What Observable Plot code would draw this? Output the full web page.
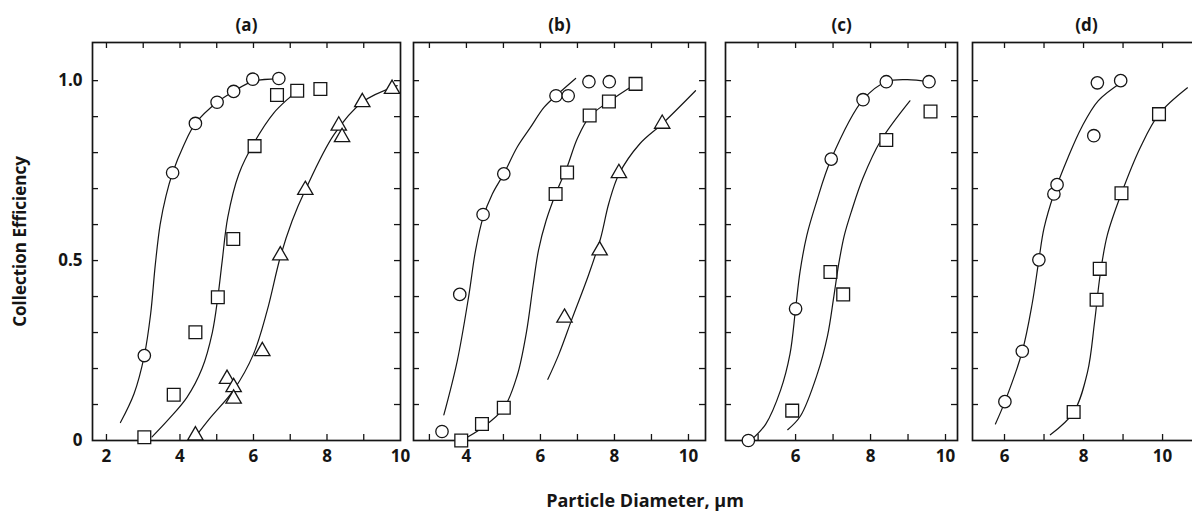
<!DOCTYPE html>
<html>
<head>
<meta charset="utf-8">
<script src="https://cdn.jsdelivr.net/npm/d3@7"></script>
<script src="https://cdn.jsdelivr.net/npm/@observablehq/plot@0.6"></script>
<style>
  body { margin: 0; background: #fff; }
  #wrap { position: relative; width: 1192px; height: 512px; overflow: hidden; background: #fff; font-family: "Open Sans", sans-serif; color: #111; }
  #wrap svg { position: absolute; top: 0; }
  #xlabel { position: absolute; left: 445px; width: 400px; top: 488px; text-align: center; font-size: 18px; font-weight: bold; line-height: 24px; color: #151515; }
</style>
</head>
<body>
<div id="wrap"><div id="xlabel">Particle Diameter, μm</div></div>
<script>
// ---------- data ----------
const yDomain = [0, 1.106];
const yMinorTicks = [0.1, 0.2, 0.3, 0.4, 0.5, 0.6, 0.7, 0.8, 0.9, 1.0];
const yTickLabels = [0, 0.5, 1.0];
const yTitle = "Collection Efficiency";
const panelTitles = ["(a)", "(b)", "(c)", "(d)"];

// panel (a)
const aXDomain = [1.62, 10.0];
const aXTicks = [2, 3, 4, 5, 6, 7, 8, 9];
const aXLabels = [2, 4, 6, 8, 10];
const aCircles = [[3.03,0.236],[3.80,0.744],[4.42,0.881],[5.01,0.940],[5.46,0.970],[5.98,1.004],[6.69,1.006]];
const aSquares = [[3.03,0.009],[3.83,0.127],[4.42,0.301],[5.03,0.398],[5.45,0.560],[6.03,0.818],[6.64,0.960],[7.19,0.972],[7.82,0.977]];
const aTriangles = [[4.42,0.014],[5.28,0.171],[5.46,0.148],[5.46,0.116],[6.24,0.248],[6.73,0.514],[7.41,0.696],[8.32,0.875],[8.41,0.843],[8.96,0.940],[9.77,0.977]];
const aCircleCurve = [[2.38,0.05],[2.75,0.13],[3.03,0.236],[3.2,0.35],[3.33,0.49],[3.46,0.60],[3.62,0.68],[3.80,0.744],[4.1,0.82],[4.42,0.881],[5.01,0.940],[5.46,0.970],[5.98,0.998],[6.69,1.005]];
const aSquareCurve = [[3.24,0.01],[3.7,0.06],[4.19,0.12],[4.6,0.2],[4.88,0.3],[5.03,0.398],[5.15,0.50],[5.3,0.62],[5.6,0.74],[6.03,0.83],[6.55,0.91],[7.0,0.955],[7.19,0.972]];
const aTriangleCurve = [[4.42,0.01],[4.8,0.06],[5.46,0.14],[6.0,0.24],[6.37,0.36],[6.73,0.51],[7.05,0.61],[7.41,0.696],[8.19,0.85],[8.96,0.940],[9.91,0.986]];

// panel (b)
const bXDomain = [2.57, 10.46];
const bXTicks = [3, 4, 5, 6, 7, 8, 9, 10];
const bXLabels = [4, 6, 8, 10];
const bCircles = [[3.34,0.025],[3.82,0.406],[4.45,0.628],[5.01,0.741],[6.42,0.958],[6.75,0.958],[7.31,0.997],[7.86,0.997]];
const bSquares = [[3.86,0.0],[4.42,0.046],[5.01,0.091],[6.41,0.685],[6.72,0.745],[7.33,0.903],[7.85,0.942],[8.57,0.991]];
const bTriangles = [[6.65,0.341],[7.60,0.528],[8.12,0.743],[9.29,0.880]];
const bCircleCurve = [[3.39,0.071],[3.75,0.22],[4.06,0.40],[4.25,0.53],[4.45,0.62],[4.7,0.685],[5.01,0.741],[5.37,0.815],[5.73,0.870],[6.09,0.925],[6.42,0.958],[6.95,1.006]];
const bSquareCurve = [[3.86,0.0],[4.42,0.035],[5.01,0.09],[5.37,0.18],[5.62,0.30],[5.8,0.43],[5.95,0.53],[6.15,0.61],[6.41,0.685],[6.72,0.76],[7.0,0.84],[7.33,0.90],[7.85,0.942],[8.57,0.991]];
const bTriangleCurve = [[6.20,0.17],[6.5,0.24],[6.86,0.34],[7.3,0.46],[7.62,0.56],[7.85,0.66],[8.12,0.74],[8.68,0.824],[9.29,0.88],[10.19,0.972]];

// panel (c)
const cXDomain = [4.13, 10.32];
const cXTicks = [5, 6, 7, 8, 9, 10];
const cXLabels = [6, 8, 10];
const cCircles = [[4.74,0.0],[6.0,0.366],[6.95,0.782],[7.80,0.947],[8.42,0.997],[9.56,0.997]];
const cSquares = [[5.91,0.083],[6.93,0.468],[7.27,0.406],[8.42,0.835],[9.6,0.914]];
const cCircleCurve = [[4.80,0.0],[5.2,0.045],[5.6,0.14],[5.85,0.24],[6.0,0.366],[6.12,0.47],[6.3,0.57],[6.55,0.66],[6.95,0.782],[7.8,0.947],[8.42,0.997],[8.98,1.003],[9.56,0.997]];
const cSquareCurve = [[5.79,0.03],[6.13,0.068],[6.58,0.185],[6.85,0.29],[7.02,0.40],[7.15,0.49],[7.3,0.57],[7.5,0.64],[7.8,0.73],[8.27,0.833],[9.05,0.944]];

// panel (d)
const dXDomain = [5.19, 10.96];
const dXTicks = [6, 7, 8, 9, 10];
const dXLabels = [6, 8, 10];
const dCircles = [[6.01,0.108],[6.45,0.248],[6.87,0.502],[7.25,0.685],[7.33,0.711],[8.26,0.847],[8.35,0.994],[8.94,1.0]];
const dSquares = [[7.75,0.079],[8.33,0.391],[8.41,0.477],[8.96,0.687],[9.91,0.907]];
const dCircleCurve = [[5.77,0.046],[6.01,0.108],[6.45,0.248],[6.7,0.38],[6.87,0.502],[7.0,0.59],[7.25,0.685],[7.61,0.787],[7.95,0.87],[8.37,0.944],[8.96,0.995]];
const dSquareCurve = [[7.16,0.016],[7.75,0.079],[8.1,0.19],[8.28,0.33],[8.42,0.46],[8.6,0.57],[8.96,0.687],[9.44,0.815],[9.91,0.907],[10.63,0.98]];

// ---------- drawing ----------
const INK = "#151515";
const H = 512, MT = 42, MB = 72;
const symR = {circle: 6.2, square: 7.2, triangle: 5.7};

function panel(cfg) {
  const ih = H - MT - MB;
  const iw = cfg.width - cfg.mL - cfg.mR;
  const X = d => d[0], Y = d => d[1];
  const marks = [
    Plot.tickX(cfg.xTicks, {x: d => d, insetTop: ih - 6, stroke: INK, strokeWidth: 1.3}),
    Plot.tickX(cfg.xTicks, {x: d => d, insetBottom: ih - 6, stroke: INK, strokeWidth: 1.3}),
    Plot.tickY(yMinorTicks, {y: d => d, insetRight: iw - 6, stroke: INK, strokeWidth: 1.3}),
    Plot.tickY(yMinorTicks, {y: d => d, insetLeft: iw - 6, stroke: INK, strokeWidth: 1.3}),
    Plot.frame({stroke: INK, strokeWidth: 1.7}),
    Plot.axisX(cfg.xLabels, {anchor: "bottom", tickSize: 0, tickPadding: 9, fontSize: 17, fontWeight: "bold", tickFormat: d => String(d)}),
    Plot.text([cfg.title], {frameAnchor: "top", lineAnchor: "middle", dy: -17, fontSize: 17, fontWeight: "bold", textAnchor: "middle"})
  ];
  for (const c of cfg.curves) {
    marks.push(Plot.line(c, {x: X, y: Y, curve: "catmull-rom", stroke: INK, strokeWidth: 1.2}));
  }
  for (const [pts, sym] of cfg.points) {
    marks.push(Plot.dot(pts, {x: X, y: Y, symbol: sym, r: symR[sym], fill: "white", stroke: INK, strokeWidth: 1.3}));
  }
  if (cfg.yAxis) {
    marks.push(Plot.axisY(yTickLabels, {anchor: "left", tickSize: 0, tickPadding: 10, fontSize: 17, fontWeight: "bold",
      tickFormat: d => d === 0 ? "0" : d.toFixed(1)}));
    marks.push(Plot.text([yTitle], {frameAnchor: "left", textAnchor: "middle", lineAnchor: "middle", dx: -72, rotate: -90, fontSize: 17, fontWeight: "bold"}));
  }
  const svg = Plot.plot({
    width: cfg.width, height: H,
    marginTop: MT, marginBottom: MB, marginLeft: cfg.mL, marginRight: cfg.mR,
    x: {domain: cfg.xDomain, axis: null},
    y: {domain: yDomain, axis: null},
    style: {fontFamily: "Open Sans, sans-serif", color: INK, background: "transparent", overflow: "visible", maxWidth: "none"},
    marks
  });
  svg.style.left = cfg.left + "px";
  document.getElementById("wrap").appendChild(svg);
}

panel({title: panelTitles[0], left: 0, width: 410, mL: 92, mR: 10, xDomain: aXDomain, xTicks: aXTicks, xLabels: aXLabels, yAxis: true,
  curves: [aCircleCurve, aSquareCurve, aTriangleCurve],
  points: [[aCircles, "circle"], [aSquares, "square"], [aTriangles, "triangle"]]});
panel({title: panelTitles[1], left: 403, width: 312, mL: 10, mR: 10, xDomain: bXDomain, xTicks: bXTicks, xLabels: bXLabels,
  curves: [bCircleCurve, bSquareCurve, bTriangleCurve],
  points: [[bCircles, "circle"], [bSquares, "square"], [bTriangles, "triangle"]]});
panel({title: panelTitles[2], left: 715, width: 252, mL: 10, mR: 10, xDomain: cXDomain, xTicks: cXTicks, xLabels: cXLabels,
  curves: [cCircleCurve, cSquareCurve],
  points: [[cCircles, "circle"], [cSquares, "square"]]});
panel({title: panelTitles[3], left: 962, width: 248, mL: 10, mR: 10, xDomain: dXDomain, xTicks: dXTicks, xLabels: dXLabels,
  curves: [dCircleCurve, dSquareCurve],
  points: [[dCircles, "circle"], [dSquares, "square"]]});
</script>
</body>
</html>
